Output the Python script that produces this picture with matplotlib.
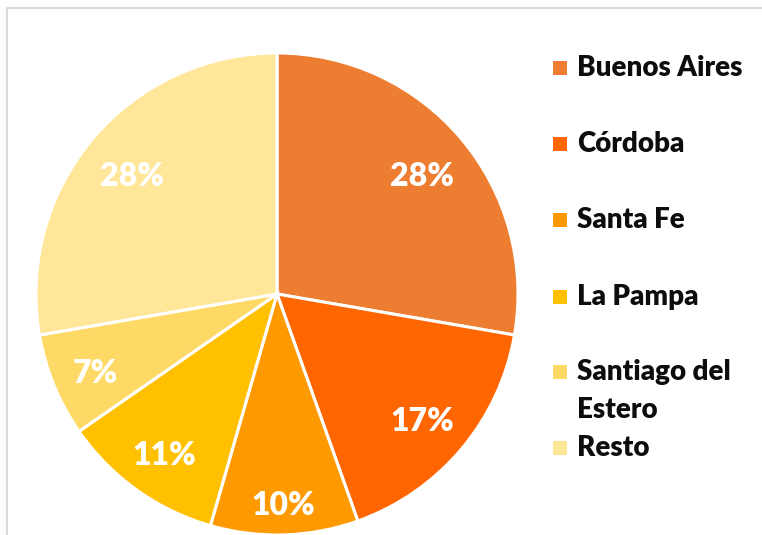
import matplotlib
matplotlib.use("Agg")
import numpy as np
import matplotlib.pyplot as plt
from matplotlib.patches import Rectangle

provincias = ["Buenos Aires", "Córdoba", "Santa Fe", "La Pampa", "Santiago del\nEstero", "Resto"]
porcentajes = [28, 17, 10, 11, 7, 28]
colores = ["#ED7D31", "#FF6600", "#FF9900", "#FFC000", "#FFD966", "#FFE699"]

W, H = 762, 535
DPI = 100
fig = plt.figure(figsize=(W / DPI, H / DPI), dpi=DPI)
fig.patch.set_facecolor("white")

# chart-area frame (clipped at right and bottom)
fig.patches.append(Rectangle((6.5 / W, -0.1), 1.2, 1.1 - 8.5 / H, transform=fig.transFigure,
                             fill=False, edgecolor="#D9D9D9", linewidth=1.5))

cx, cy, r = 277, 294, 241
ax = fig.add_axes([(cx - r) / W, (H - cy - r) / H, 2 * r / W, 2 * r / H])
wedges, _ = ax.pie(
    porcentajes, colors=colores, startangle=90, counterclock=False,
    wedgeprops=dict(edgecolor="white", linewidth=2.2),
)
ax.set_xlim(-1, 1)
ax.set_ylim(-1, 1)
ax.set_aspect("equal")
ax.axis("off")

# percent labels: placed along each wedge's mid-angle so that the outer
# corner of the label box sits at a fixed fraction of the radius
fs = 23
cap_px = 0.7165 * fs * DPI / 72
reach = 0.92
drop = 3 / r
renderer = fig.canvas.get_renderer()
for w, v in zip(wedges, porcentajes):
    ang = np.deg2rad((w.theta1 + w.theta2) / 2)
    u = np.array([np.cos(ang), np.sin(ang)])
    t = ax.text(0, 0, f"{v}%", color="white", fontsize=fs, fontweight="heavy",
                family="Lato", ha="center", va="baseline")
    bb = t.get_window_extent(renderer)
    half = np.array([bb.width / 2, cap_px / 2]) / r
    c = np.sign(u) * half
    uc = u @ c
    dist = -uc + np.sqrt(uc ** 2 - c @ c + reach ** 2)
    pos = dist * u
    t.set_position((pos[0], pos[1] - half[1] - drop))

# legend
leg_y = [67.5, 143.5, 220, 296.5, 371.5, 448]
line_step = 38
for nombre, color, y in zip(provincias, colores, leg_y):
    fig.patches.append(Rectangle((553 / W, 1 - (y + 7) / H), 14 / W, 14 / H,
                                 transform=fig.transFigure, facecolor=color, edgecolor="none"))
    for i, linea in enumerate(nombre.split("\n")):
        fig.text(577 / W, 1 - (y + 8.5 + i * line_step) / H, linea, ha="left", va="baseline",
                 fontsize=20, fontweight="heavy", family="Lato", color="#0D0D0D")

fig.savefig("out.png", dpi=DPI)
